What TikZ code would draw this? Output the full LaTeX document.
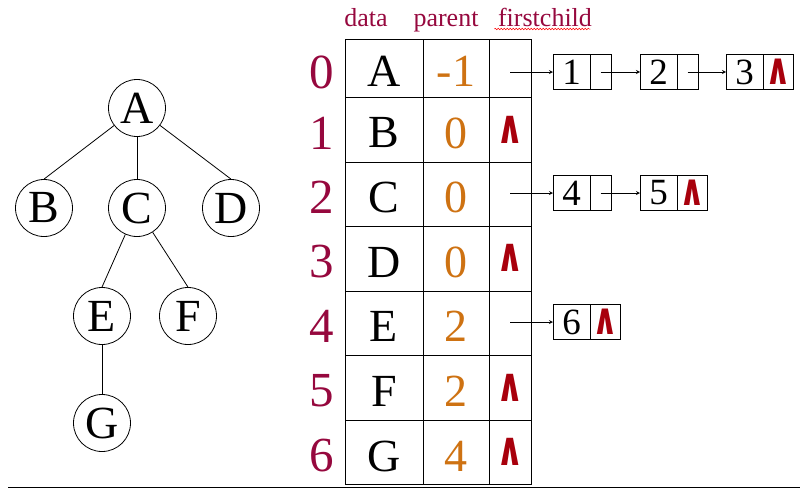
\documentclass[tikz,border=0pt]{standalone}
\usepackage{fontspec}
\setmainfont{Liberation Serif}
\newfontfamily\symfont{DejaVu Sans}
\usetikzlibrary{arrows,positioning,decorations.pathmorphing}
\definecolor{idxred}{RGB}{150,8,62}
\definecolor{parorange}{RGB}{206,114,18}
\definecolor{nilred}{RGB}{168,0,12}
\newcommand{\nilsym}{\scalebox{0.72}[1]{∧}}
\tikzset{
  vertex/.style={circle,draw,minimum size=57pt,inner sep=0pt,font=\fontsize{46}{46}\selectfont},
  cell/.style={inner sep=0pt,font=\fontsize{46}{46}\selectfont},
  idx/.style={inner sep=0pt,text=idxred,font=\fontsize{49}{49}\selectfont},
  par/.style={cell,text=parorange},
  nil/.style={inner sep=0pt,text=nilred,font=\symfont\bfseries\fontsize{47}{47}\selectfont},
  head/.style={anchor=base,text=idxred,font=\fontsize{26}{26}\selectfont},
  databox/.style={draw,outer sep=0pt,minimum width=37pt,minimum height=35pt,inner sep=0pt,font=\fontsize{37}{37}\selectfont},
  ptrbox/.style={draw,outer sep=0pt,minimum width=21pt,minimum height=35pt,inner sep=0pt},
  nilbox/.style={ptrbox,minimum width=30pt,text=nilred,font=\symfont\bfseries\fontsize{44}{44}\selectfont}
}
\begin{document}
\begin{tikzpicture}[x=1pt,y=-1pt,line width=0.8pt,>=stealth]
  \useasboundingbox (0,0) rectangle (808,488);
  % tree
  \node[vertex](A) at (137,108){A};
  \node[vertex](B) at (44,208){B};
  \node[vertex](C) at (137,208){C};
  \node[vertex](D) at (231,208){D};
  \node[vertex](E) at (102,316){E};
  \node[vertex](F) at (188,316){F};
  \node[vertex](G) at (102,423){G};
  \draw(A)--(B.north);
  \draw(A)--(C);
  \draw(A)--(D.north);
  \draw(C)--(E.north);
  \draw(C)--(F.north);
  \draw(E)--(G);
  % headers
  \node[head](hd) at (366,26){data};
  \node[head](hp) at (446,26){parent};
  \node[head](hf) at (545,26){firstchild};
  \draw[red,line width=0.5pt,decorate,decoration={snake,amplitude=0.7pt,segment length=3pt}]
    (hf.base west)++(0,3)--++(96,0);
  % table
  \draw(345,39) rectangle (531,484);
  \draw(423,39)--(423,484);
  \draw(489,39)--(489,484);
  \foreach \y in {97.5,162,226.5,291,355.5,420}
    \draw(345,\y)--(531,\y);
  \node[idx](i0) at (322,72){0};
  \node[idx](i1) at (322,133){1};
  \node[idx](i2) at (322,197){2};
  \node[idx](i3) at (322,262){3};
  \node[idx](i4) at (322,326){4};
  \node[idx](i5) at (322,391){5};
  \node[idx](i6) at (322,456){6};
  \node[cell](d0) at (384,71){A};
  \node[cell](d1) at (384,133){B};
  \node[cell](d2) at (384,197){C};
  \node[cell](d3) at (384,262){D};
  \node[cell](d4) at (384,326){E};
  \node[cell](d5) at (384,391){F};
  \node[cell](d6) at (384,456){G};
  \node[par](p0) at (456,71){-1};
  \node[par](p1) at (456,133){0};
  \node[par](p2) at (456,197){0};
  \node[par](p3) at (456,262){0};
  \node[par](p4) at (456,326){2};
  \node[par](p5) at (456,391){2};
  \node[par](p6) at (456,456){4};
  \node[nil](f1) at (510,130){\nilsym};
  \node[nil](f3) at (510,258){\nilsym};
  \node[nil](f5) at (510,388){\nilsym};
  \node[nil](f6) at (510,452){\nilsym};
  % child lists
  \node[databox](n1) at (571.5,72){1};
  \node[ptrbox,right=0pt of n1](q1){};
  \node[databox,right=29pt of q1](n2){2};
  \node[ptrbox,right=0pt of n2](q2){};
  \node[databox,right=28pt of q2](n3){3};
  \node[nilbox,right=0pt of n3](q3){\nilsym};
  \node[databox](n4) at (571.5,193){4};
  \node[ptrbox,right=0pt of n4](q4){};
  \node[databox,right=29pt of q4](n5){5};
  \node[nilbox,right=0pt of n5](q5){\nilsym};
  \node[databox](n6) at (571.5,322){6};
  \node[nilbox,right=0pt of n6](q6){\nilsym};
  \coordinate(s0) at (510,72);
  \coordinate(s2) at (510,193);
  \coordinate(s4) at (510,322);
  \draw[->](s0)--(n1);
  \draw[->](q1.center)--(n2);
  \draw[->](q2.center)--(n3);
  \draw[->](s2)--(n4);
  \draw[->](q4.center)--(n5);
  \draw[->](s4)--(n6);
  \draw(8,487)--(800,487);
\end{tikzpicture}
\end{document}
